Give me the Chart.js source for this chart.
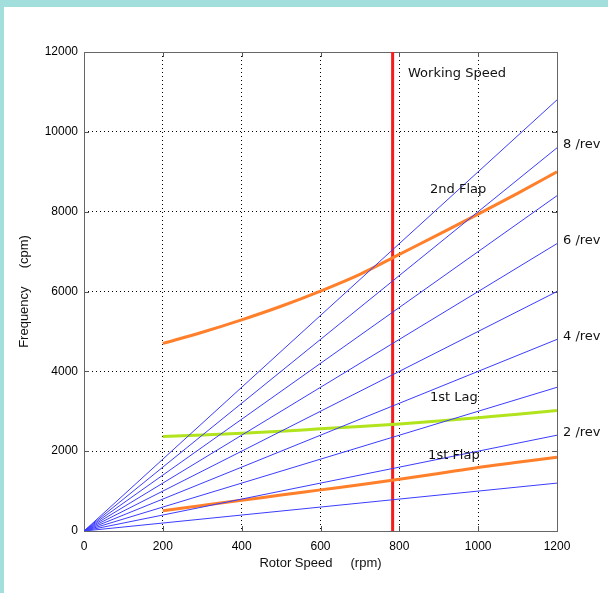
<!DOCTYPE html>
<html><head><meta charset="utf-8">
<script src="https://cdn.jsdelivr.net/npm/chart.js@4"></script>
<style>
html,body{margin:0;padding:0;background:#fff;}
#frame{position:absolute;left:0;top:0;width:608px;height:593px;background:#a2dedc;}
#c{position:absolute;left:4px;top:7px;background:#fff;}
</style></head><body><div id="frame"></div><canvas id="c" width="604" height="586"></canvas>
<script>
// ---- data ----
const xTicks = [0, 200, 400, 600, 800, 1000, 1200];
const yTicks = [0, 2000, 4000, 6000, 8000, 10000, 12000];
const revOrders = [1, 2, 3, 4, 5, 6, 7, 8, 9];
const revStartRpm = 0;
const revEndRpm = 1200;
const revEndFreq = [1200, 2400, 3600, 4800, 6000, 7200, 8400, 9600, 10800];
const revLabels = ['2 /rev', '4 /rev', '6 /rev', '8 /rev'];
const revLabelFreq = [2400, 4800, 7200, 9600];
const modeRpm = [200, 300, 400, 500, 600, 700, 800, 900, 1000, 1100, 1200];
const flap2 = [4700, 4980, 5290, 5630, 6010, 6430, 6930, 7430, 7940, 8460, 9000];
const lag1  = [2370, 2405, 2450, 2500, 2560, 2615, 2680, 2755, 2840, 2925, 3020];
const flap1 = [510, 640, 770, 900, 1030, 1160, 1295, 1440, 1590, 1720, 1850];
const workingSpeed = 783;
const annText = ['Working Speed', '2nd Flap', '1st Lag', '1st Flap'];
const annRpm  = [822, 878, 878, 873];
const annFreq = [11450, 8540, 3330, 1880];

const FONT = "'Liberation Sans', Arial, Helvetica, sans-serif";
const HAND = "'Comic Sans MS', 'DejaVu Sans', sans-serif";

const pts = (xs, ys) => xs.map((x, i) => ({x, y: ys[i]}));

const datasets = [];
revOrders.forEach((n, i) => {
  datasets.push({
    label: n + '/rev',
    data: [{x: revStartRpm, y: 0}, {x: revEndRpm, y: revEndFreq[i]}],
    borderColor: '#3c3cff', borderWidth: 1, pointRadius: 0, tension: 0
  });
});
datasets.push({label: '1st Flap', data: pts(modeRpm, flap1), borderColor: '#ff7f2a', borderWidth: 3, pointRadius: 0, tension: 0.4, cubicInterpolationMode: 'monotone'});
datasets.push({label: '1st Lag', data: pts(modeRpm, lag1), borderColor: '#b2e41e', borderWidth: 3, pointRadius: 0, tension: 0.4, cubicInterpolationMode: 'monotone'});
datasets.push({label: '2nd Flap', data: pts(modeRpm, flap2), borderColor: '#ff7f2a', borderWidth: 3, pointRadius: 0, tension: 0.4, cubicInterpolationMode: 'monotone'});
datasets.push({label: 'Working Speed', data: [{x: workingSpeed, y: yTicks[0]}, {x: workingSpeed, y: yTicks[yTicks.length - 1]}], borderColor: '#f41c1c', borderWidth: 3, pointRadius: 0, clip: 3});

const boxPlugin = {
  id: 'box',
  beforeDatasetsDraw(chart) {
    const {ctx, chartArea: a, scales: {x, y}} = chart;
    ctx.save();
    ctx.strokeStyle = '#555';
    ctx.lineWidth = 1;
    ctx.beginPath();
    xTicks.forEach(v => {
      const px = Math.round(x.getPixelForValue(v)) + 0.5;
      ctx.moveTo(px, a.top); ctx.lineTo(px, a.top + 5);
      ctx.moveTo(px, a.bottom); ctx.lineTo(px, a.bottom - 5);
    });
    yTicks.forEach(v => {
      const py = Math.round(y.getPixelForValue(v)) + 0.5;
      ctx.moveTo(a.left, py); ctx.lineTo(a.left + 5, py);
      ctx.moveTo(a.right, py); ctx.lineTo(a.right - 5, py);
    });
    ctx.stroke();
    ctx.strokeStyle = '#666';
    ctx.strokeRect(Math.round(a.left) + 0.5, Math.round(a.top) + 0.5, Math.round(a.right - a.left), Math.round(a.bottom - a.top));
    ctx.restore();
  },
  afterDraw(chart) {
    const {ctx, scales: {x, y}} = chart;
    ctx.save();
    ctx.fillStyle = '#111';
    ctx.font = '13px ' + HAND;
    ctx.textAlign = 'left';
    ctx.textBaseline = 'middle';
    annText.forEach((t, i) => {
      ctx.fillText(t, x.getPixelForValue(annRpm[i]), y.getPixelForValue(annFreq[i]));
    });
    revLabels.forEach((t, i) => {
      ctx.fillText(t, x.getPixelForValue(revEndRpm) + 6, y.getPixelForValue(revLabelFreq[i]) - 3);
    });
    ctx.restore();
  }
};

const gridColor = (ctx) => {
  const v = ctx.tick ? ctx.tick.value : null;
  return (v === 0 || v === 1200 || v === 12000) ? 'rgba(0,0,0,0)' : '#000';
};

new Chart(document.getElementById('c'), {
  type: 'line',
  data: {datasets},
  options: {
    responsive: false,
    animation: false,
    layout: {padding: {top: 45, right: 51, left: 0, bottom: 0}},
    plugins: {legend: {display: false}, tooltip: {enabled: false}},
    scales: {
      x: {
        type: 'linear', min: 0, max: 1200,
        afterFit: s => { s.height = 62; },
        afterBuildTicks: s => { s.ticks = xTicks.map(v => ({value: v})); },
        ticks: {color: '#000', font: {family: FONT, size: 12}, padding: 8, maxRotation: 0, callback: v => String(v)},
        grid: {color: gridColor, lineWidth: 1, drawTicks: false},
        border: {display: false, dash: [1, 3]},
        title: {display: true, text: 'Rotor Speed     (rpm)', color: '#111', font: {family: FONT, size: 13}, padding: {top: 0, bottom: 22}}
      },
      y: {
        type: 'linear', min: 0, max: 12000,
        afterFit: s => { s.width = 80; },
        afterBuildTicks: s => { s.ticks = yTicks.map(v => ({value: v})); },
        ticks: {color: '#000', font: {family: FONT, size: 12}, padding: 6, callback: v => String(v)},
        grid: {color: gridColor, lineWidth: 1, drawTicks: false},
        border: {display: false, dash: [1, 3]},
        title: {display: true, text: 'Frequency     (cpm)', color: '#111', font: {family: FONT, size: 13}, padding: {top: 13, bottom: 0}}
      }
    }
  },
  plugins: [boxPlugin]
});
</script></body></html>
